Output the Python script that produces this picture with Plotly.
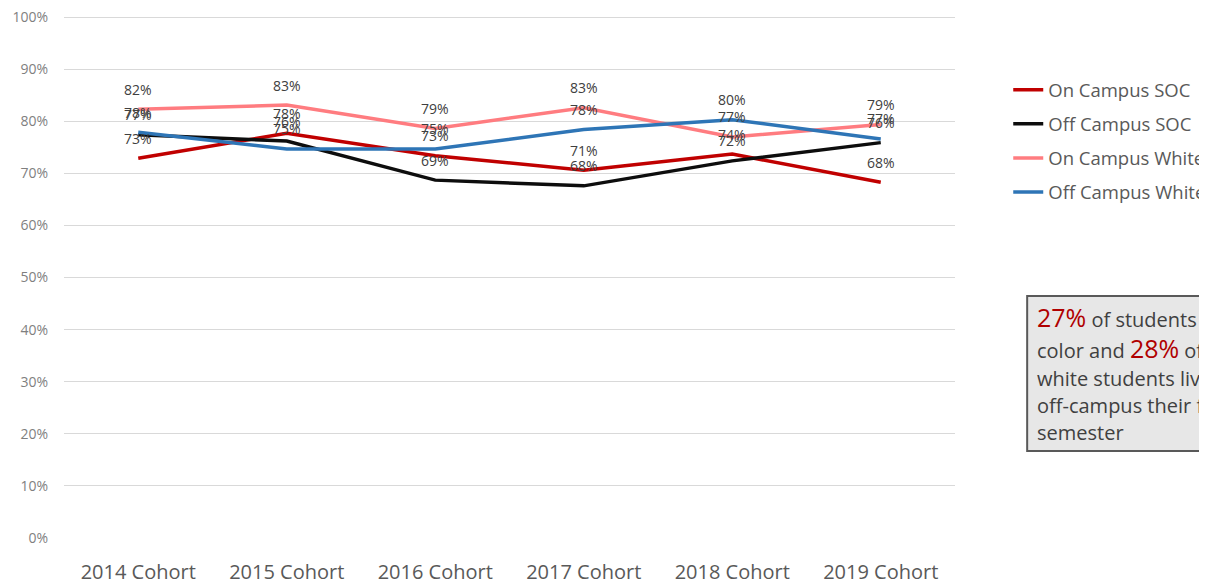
import plotly.graph_objects as go

cohorts = ["2014 Cohort", "2015 Cohort", "2016 Cohort", "2017 Cohort", "2018 Cohort", "2019 Cohort"]

on_soc = [72.9, 77.7, 73.4, 70.6, 73.7, 68.3]
off_soc = [77.4, 76.2, 68.7, 67.6, 72.4, 75.9]
on_white = [82.3, 83.1, 78.6, 82.6, 77.0, 79.4]
off_white = [77.9, 74.7, 74.7, 78.4, 80.3, 76.6]

pct_ticks = list(range(0, 101, 10))
pct_labels = ["{}%".format(t) for t in pct_ticks]

series = [
    ("On Campus SOC", on_soc, "#C00000"),
    ("Off Campus SOC", off_soc, "#0D0D0D"),
    ("On Campus White", on_white, "#FF7C80"),
    ("Off Campus White", off_white, "#2E75B6"),
]

note_lines = [
    "<span style='font-size:25px;color:#B00000'>27%</span> of students of",
    "color and <span style='font-size:25px;color:#B00000'>28%</span> of",
    "white students lived",
    "off-campus their first",
    "semester",
]
note_px = [317, 348, 378, 405, 432]  # vertical pixel centre of each line

FONT = "Open Sans"
# the page body adds an 8px offset, so the margins are trimmed by that much;
# the y range runs a touch past 100 so the top gridline is kept
TOP, PLOT_H, YMAX = 7, 523, 100.4

fig = go.Figure()
annotations = []
for name, vals, col in series:
    fig.add_trace(go.Scatter(
        x=cohorts, y=vals, mode="lines", name=name, legendgroup=name,
        line=dict(color=col, width=3.5),
        hoverinfo="skip",
    ))
    # data labels sit above each point, like Excel's "Above" position
    for c, v in zip(cohorts, vals):
        annotations.append(dict(
            x=c, y=v, xref="x", yref="y", text="{:.0f}%".format(v),
            showarrow=False, yshift=20,
            font=dict(family=FONT, size=14, color="#404040"),
        ))

# callout box on the right, clipped by the page edge
def py_to_paper(py):
    return 1 - (py - 8 - TOP) / PLOT_H

for txt, py in zip(note_lines, note_px):
    annotations.append(dict(
        x=1.0898, y=py_to_paper(py), xref="paper", yref="paper",
        xanchor="left", yanchor="middle",
        text=txt, align="left", showarrow=False,
        font=dict(family=FONT, size=20, color="#404040"),
    ))

fig.update_layout(
    width=1207, height=586,
    margin=dict(l=56, r=260, t=TOP, b=586 - TOP - PLOT_H, autoexpand=False),
    paper_bgcolor="white", plot_bgcolor="white",
    font=dict(family=FONT, color="#595959"),
    showlegend=True,
    legend=dict(
        xref="container", yref="container",
        x=0.8287, y=0.892, xanchor="left", yanchor="top",
        traceorder="grouped", tracegroupgap=7,
        font=dict(family=FONT, size=18.5, color="#595959"),
        itemwidth=30,
    ),
    xaxis=dict(
        range=[-0.5, 5.5], automargin=False,
        showgrid=False, showline=False, zeroline=False,
        tickfont=dict(family=FONT, size=20, color="#595959"),
        ticklabelstandoff=20,
    ),
    yaxis=dict(
        range=[0, YMAX], tickvals=pct_ticks, ticktext=pct_labels, automargin=False,
        ticklabeloverflow="allow",
        showgrid=True, gridcolor="#D9D9D9", gridwidth=1,
        zeroline=False, showline=False,
        tickfont=dict(family=FONT, size=14, color="#7F7F7F"),
        ticklabelstandoff=15,
    ),
    shapes=[dict(
        type="rect", xref="paper", yref="paper",
        x0=1.081, x1=1.35, y0=py_to_paper(451), y1=py_to_paper(296),
        fillcolor="#E7E7E7", line=dict(color="#595959", width=2),
        layer="below",
    )],
    annotations=annotations,
)

fig.write_html("out.html")
